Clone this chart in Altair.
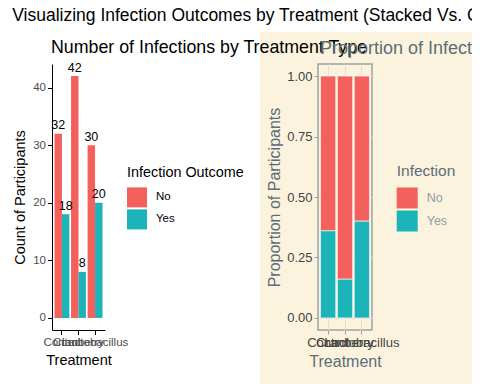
import altair as alt
import pandas as pd

FONT = "Liberation Sans"

treatments = ["Control", "Cranberry", "Lactobacillus"]
outcomes = ["No", "Yes"]
no_counts = [32, 42, 30]
yes_counts = [18, 8, 20]
count_ticks = [0, 10, 20, 30, 40]
prop_ticks = [0, 0.25, 0.5, 0.75, 1.0]

RED = "#F4615D"
TEAL = "#1BB4B8"
BEIGE = "#FCF3DE"
SLATE = "#5B6E78"
AXGRAY = "#98A5A6"

rows = []
for t, n, y in zip(treatments, no_counts, yes_counts):
    total = n + y
    rows.append({"Treatment": t, "Infection": "No", "Count": n, "Prop": n / total})
    rows.append({"Treatment": t, "Infection": "Yes", "Count": y, "Prop": y / total})
df = pd.DataFrame(rows)

color_scale = alt.Scale(domain=outcomes, range=[RED, TEAL])

# ---------- left panel: grouped counts ----------
bg = alt.Chart(pd.DataFrame({"k": [0]})).mark_rect(color=BEIGE).encode(
    x=alt.value(208), x2=alt.value(430), y=alt.value(-32), y2=alt.value(320)
)

x_left = alt.X(
    "Treatment:N", sort=treatments,
    scale=alt.Scale(paddingInner=0.1, paddingOuter=0.15),
    axis=alt.Axis(title="Treatment", labelAngle=0, labelFontSize=11.5, labelColor="#4D4D4D",
                  domainColor="black", tickColor="black", tickSize=4.5, labelPadding=2,
                  titleFontSize=14.5, titleFontWeight="normal", titleColor="black", titlePadding=5),
)
xoff = alt.XOffset("Infection:N", sort=outcomes, scale=alt.Scale(paddingInner=0, paddingOuter=0))
y_left = alt.Y(
    "Count:Q",
    scale=alt.Scale(domain=[-2.1, 44.1], nice=False, zero=False),
    axis=alt.Axis(values=count_ticks, title="Count of Participants", labelFontSize=11.5,
                  labelColor="#4D4D4D", domainColor="black", tickColor="black", tickSize=4.5,
                  labelPadding=2, grid=False, titleFontSize=14.5, titleFontWeight="normal",
                  titleColor="black", titlePadding=5),
)

bars_left = alt.Chart(df).mark_bar().encode(
    x=x_left, xOffset=xoff, y=y_left,
    color=alt.Color("Infection:N", scale=color_scale,
                    legend=alt.Legend(title="Infection Outcome", orient="none", legendX=75, legendY=102,
                                      titleFontSize=14.4, titleFontWeight="normal", titleColor="black",
                                      labelFontSize=11.5, labelColor="black", symbolType="square",
                                      symbolSize=400, symbolStrokeWidth=0, labelOffset=9,
                                      titlePadding=7, padding=0, rowPadding=2)),
)
text_left = alt.Chart(df).mark_text(baseline="bottom", fontSize=12.5, font=FONT, color="black",
                                    dy=-1.5).encode(
    x=x_left, xOffset=xoff, y=y_left, text="Count:Q"
)

left = alt.layer(bg, bars_left, text_left).properties(
    width=53, height=266,
    title=alt.TitleParams("Number of Infections by Treatment Type", anchor="start", frame="group",
                          fontSize=17.8, fontWeight="normal", color="black", font=FONT,
                          baseline="alphabetic", offset=0, dy=39, dx=-1),
)

# ---------- right panel: proportions ----------
right = alt.Chart(df).mark_bar(stroke="white", strokeWidth=0.6).encode(
    x=alt.X("Treatment:N", sort=treatments,
            scale=alt.Scale(paddingInner=0.1, paddingOuter=0.15),
            axis=alt.Axis(title="Treatment", labelAngle=0, labelFontSize=13, labelColor="#444444",
                          domain=False, tickColor=AXGRAY, tickSize=4, labelPadding=2,
                          grid=True, gridColor="#E9E0C8", gridWidth=1,
                          titleFontSize=16, titleFontWeight="normal", titleColor=SLATE, titlePadding=4)),
    y=alt.Y("Prop:Q", stack="zero",
            scale=alt.Scale(domain=[-0.05, 1.05], nice=False, zero=False),
            axis=alt.Axis(values=prop_ticks, format=".2f", title="Proportion of Participants",
                          labelFontSize=13, labelColor="#444444", domain=False, tickColor=AXGRAY,
                          tickSize=4, labelPadding=2, grid=True, gridColor="#E9E0C8", gridWidth=1,
                          titleFontSize=16, titleFontWeight="normal", titleColor=SLATE, titlePadding=4)),
    color=alt.Color("Infection:N", scale=color_scale,
                    legend=alt.Legend(title="Infection", orient="none", legendX=78.7, legendY=100,
                                      titleFontSize=15.5, titleFontWeight="normal", titleColor=SLATE,
                                      labelFontSize=12.5, labelColor="#8E9CA4", symbolType="square",
                                      symbolSize=441, symbolStrokeWidth=0, labelOffset=9,
                                      titlePadding=8, padding=0, rowPadding=2)),
    order=alt.Order("Infection:N", sort="descending"),
).properties(
    width=54, height=266,
    view=alt.ViewBackground(stroke=AXGRAY, strokeWidth=1.5),
    title=alt.TitleParams("Proportion of Infection Outcomes by Treatment", anchor="start", frame="group",
                          fontSize=18, fontWeight="normal", color=SLATE, font=FONT,
                          baseline="alphabetic", offset=10, dy=18, dx=2),
)

chart = alt.hconcat(left, right, spacing=213, bounds="flush").resolve_scale(
    color="independent"
).resolve_legend(color="independent").properties(
    title=alt.TitleParams("Visualizing Infection Outcomes by Treatment (Stacked Vs. Grouped Bars)",
                          anchor="start", frame="bounds", fontSize=17.5, fontWeight="normal",
                          color="black", font=FONT, baseline="alphabetic", offset=8, dy=15),
    autosize=alt.AutoSizeParams(type="none"),
    padding={"left": 44, "top": 56, "right": 420, "bottom": 312},
).configure_view(stroke="transparent").configure_axis(
    labelFont=FONT, titleFont=FONT
).configure_legend(labelFont=FONT, titleFont=FONT).configure_title(font=FONT)

chart.save("out.html", embed_options={"renderer": "svg", "actions": False})
